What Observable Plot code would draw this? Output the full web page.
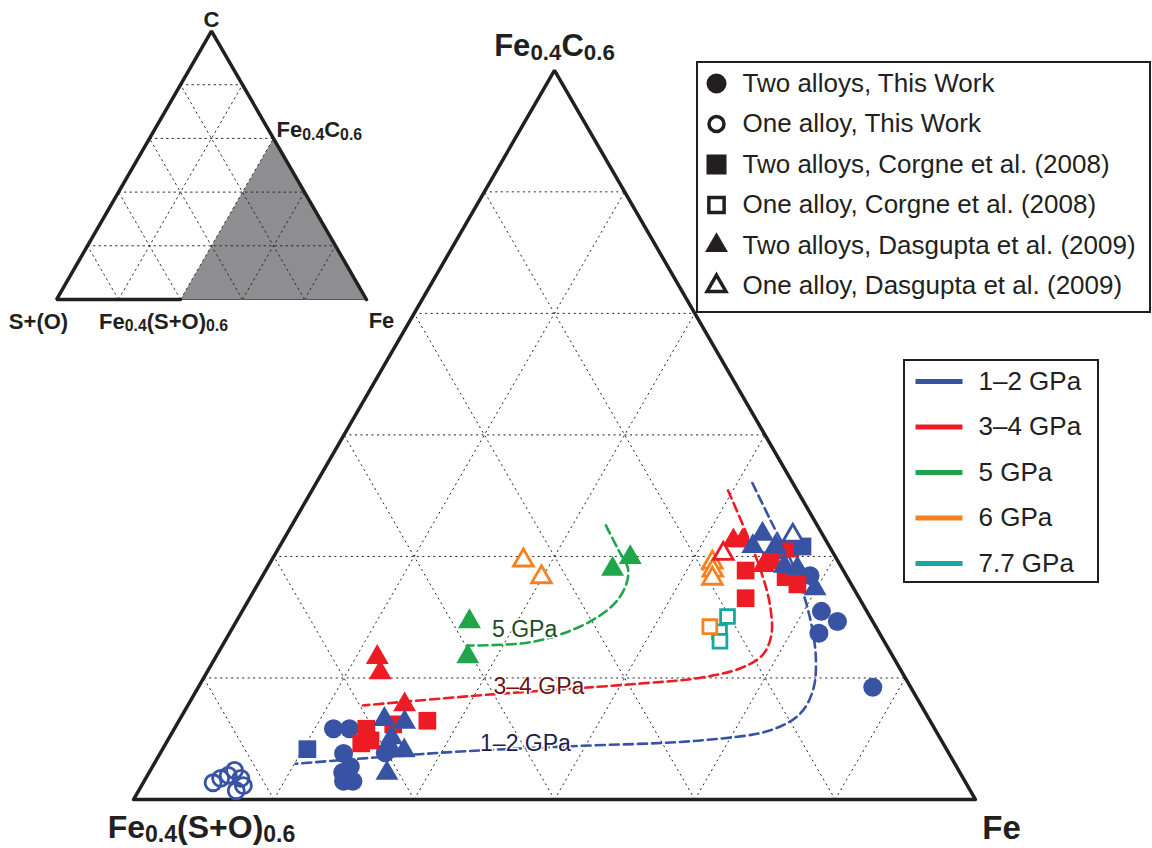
<!DOCTYPE html>
<html><head><meta charset="utf-8">
<script src="https://cdn.jsdelivr.net/npm/d3@7"></script>
<script src="https://cdn.jsdelivr.net/npm/@observablehq/plot@0.6"></script>
<style>body{margin:0;background:#fff;} svg{display:block;}</style>
</head><body><div id="chart"></div>
<script>
// ---------- DATA (main triangle compositions: [Fe-apex fraction, Fe0.4C0.6-apex fraction]) ----------
const pressures = ["1–2 GPa", "3–4 GPa", "5 GPa", "6 GPa", "7.7 GPa"];
const pressureColors = ["#3953a4", "#ed1c24", "#1fa64a", "#f58220", "#14a89e"];
const symbolLabels = ["Two alloys, This Work", "One alloy, This Work", "Two alloys, Corgne et al. (2008)",
  "One alloy, Corgne et al. (2008)", "Two alloys, Dasgupta et al. (2009)", "One alloy, Dasgupta et al. (2009)"];

const thisWorkTwo_1_2 = [[0.189,0.097],[0.208,0.097],[0.218,0.063],[0.235,0.045],[0.230,0.037],[0.248,0.025],[0.237,0.025],[0.267,0.064],
  [0.601,0.342],[0.632,0.311],[0.650,0.307],[0.688,0.258],[0.714,0.244],[0.700,0.228],[0.801,0.154]];
const thisWorkOne_1_2 = [[0.083,0.023],[0.089,0.029],[0.096,0.033],[0.100,0.040],[0.113,0.029],[0.121,0.019],[0.116,0.012]];
const corgneTwo_1_2 = [[0.172,0.069],[0.621,0.347]];
const corgneTwo_3_4 = [[0.228,0.097],[0.241,0.081],[0.232,0.077],[0.257,0.103],[0.295,0.108],
  [0.570,0.314],[0.589,0.276],[0.593,0.328],[0.622,0.305],[0.641,0.295],[0.608,0.344]];
const corgneOne_6 = [[0.566,0.237]];
const corgneOne_7_7 = [[0.580,0.251],[0.581,0.230],[0.588,0.217]];
const dasguptaTwo_1_2 = [[0.565,0.364],[0.562,0.347],[0.589,0.347],[0.613,0.320],[0.630,0.317],[0.665,0.289],
  [0.243,0.110],[0.269,0.106],[0.264,0.085],[0.274,0.067],[0.288,0.067],[0.283,0.036]];
const dasguptaTwo_3_4 = [[0.192,0.195],[0.206,0.174],[0.257,0.130],[0.535,0.355],[0.546,0.355],[0.588,0.321]];
const dasguptaTwo_5 = [[0.411,0.316],[0.424,0.332],[0.277,0.244],[0.299,0.196]];
const dasguptaOne_1_2 = [[0.602,0.362]];
const dasguptaOne_3_4 = [[0.532,0.337]];
const dasguptaOne_6 = [[0.525,0.325],[0.531,0.314],[0.536,0.303],[0.299,0.328],[0.332,0.305]];

const trend_1_2 = [[0.518,0.434],[0.565,0.383],[0.629,0.314],[0.681,0.246],[0.715,0.191],[0.732,0.150],[0.733,0.118],
  [0.709,0.095],[0.633,0.081],[0.483,0.073],[0.344,0.065],[0.168,0.049]];
const trend_3_4 = [[0.494,0.424],[0.542,0.369],[0.588,0.314],[0.623,0.266],[0.645,0.225],[0.648,0.198],[0.631,0.180],
  [0.590,0.167],[0.523,0.159],[0.432,0.151],[0.341,0.143],[0.208,0.129]];
const trend_5 = [[0.373,0.376],[0.405,0.342],[0.428,0.318],[0.437,0.298],[0.438,0.273],[0.426,0.250],[0.397,0.228],
  [0.360,0.215],[0.291,0.211]];
const trendLabelText = ["5 GPa", "3–4 GPa", "1–2 GPa"];
const trendLabelPos = [[0.348,0.233],[0.404,0.155],[0.427,0.077]];
const trendLabelColors = ["#1b4d2b", "#6e1414", "#1a2150"];

// inset: [Fe fraction, C fraction] in the Fe–C–(S+O) triangle
const insetShade = [[0.4,0],[0.4,0.6],[1,0]];
const mainDivisions = 6, insetDivisions = 5;

// ---------- LAYOUT ----------
const W = 1152, H = 848, UNIT = 842, OX = 133, OY = 799;
const px = p => (p - OX) / UNIT, py = p => (OY - p) / UNIT;
const S3 = Math.sqrt(3) / 2;
const mx = d => d[0] + d[1] / 2, my = d => d[1] * S3;
const IX0 = px(56), IY0 = py(299), IS = 310 / UNIT;
const ix = d => IX0 + IS * (d[0] + d[1] / 2), iy = d => IY0 + IS * d[1] * S3;
const FONT = "Liberation Sans, Arial, Helvetica, sans-serif";
const INK = "#231f20";

function gridSegs(n) {
  const s = [];
  for (let k = 1; k < n; k++) {
    const t = k / n;
    s.push([[0, t], [1 - t, t]]);
    s.push([[t, 0], [t, 1 - t]]);
    s.push([[1 - t, 0], [0, 1 - t]]);
  }
  return s;
}

const marks = [];
// inset
marks.push(Plot.line(insetShade, {x: ix, y: iy, fill: "#8e8e90", stroke: "none"}));
marks.push(Plot.link(gridSegs(insetDivisions), {x1: d => ix(d[0]), y1: d => iy(d[0]), x2: d => ix(d[1]), y2: d => iy(d[1]),
  stroke: "#222", strokeWidth: 0.9, strokeDasharray: "2.5,3"}));
marks.push(Plot.line([[0.4,0],[1,0]], {x: ix, y: iy, stroke: "#555", strokeWidth: 1.2}));
marks.push(Plot.line([[0.4,0],[0,0],[0,1],[1,0]], {x: ix, y: iy, stroke: INK, strokeWidth: 3.5, strokeLinejoin: "miter"}));
const insetText = (t, pt, opts) => Plot.text([t], {x: () => ix(pt), y: () => iy(pt), text: d => d, fontFamily: FONT,
  fontWeight: "bold", fontSize: 22, fill: INK, lineAnchor: "bottom", ...opts});
marks.push(insetText("C", [0,1], {dy: -4, fontSize: 22}));
marks.push(insetText("S+(O)", [0,0], {dx: -18, dy: 29}));
marks.push(insetText("Fe_{0.4}(S+O)_{0.6}", [0.4,0], {dx: -17, dy: 29}));
marks.push(insetText("Fe", [1,0], {dx: 15, dy: 28}));
marks.push(insetText("Fe_{0.4}C_{0.6}", [0.4,0.6], {dx: 3, dy: -1, textAnchor: "start"}));

// main grid + outline
marks.push(Plot.link(gridSegs(mainDivisions), {x1: d => mx(d[0]), y1: d => my(d[0]), x2: d => mx(d[1]), y2: d => my(d[1]),
  stroke: "#222", strokeWidth: 1, strokeDasharray: "2,3.5"}));
marks.push(Plot.line([[0,0],[1,0],[0,1],[0,0],[1,0]], {x: mx, y: my, stroke: INK, strokeWidth: 3.5, strokeLinejoin: "miter"}));
const mainText = (t, pt, opts) => Plot.text([t], {x: () => mx(pt), y: () => my(pt), text: d => d, fontFamily: FONT,
  fontWeight: "bold", fontSize: 32, fill: INK, lineAnchor: "bottom", ...opts});
marks.push(mainText("Fe_{0.4}C_{0.6}", [0,1], {dy: -14, fontSize: 31}));
marks.push(mainText("Fe_{0.4}(S+O)_{0.6}", [0,0], {dx: 68, dy: 38, fontSize: 32}));
marks.push(mainText("Fe", [1,0], {dx: 26, dy: 39, fontSize: 33}));

// trend curves
[[trend_1_2, 0], [trend_3_4, 1], [trend_5, 2]].forEach(([data, p]) => {
  marks.push(Plot.line(data, {x: mx, y: my, curve: "catmull-rom", stroke: pressureColors[p], strokeWidth: 2.6, strokeDasharray: "9,5"}));
});
trendLabelText.forEach((t, i) => {
  marks.push(Plot.text([t], {x: () => mx(trendLabelPos[i]), y: () => my(trendLabelPos[i]), text: d => d, fontFamily: FONT,
    fontSize: 23, fill: trendLabelColors[i], stroke: "white", strokeWidth: 3, paintOrder: "stroke", lineAnchor: "middle"}));
});

// data points
const filled = (data, p, symbol, r) => Plot.dot(data, {x: mx, y: my, symbol, r, fill: pressureColors[p], stroke: "none"});
const open = (data, p, symbol, r, fill) => Plot.dot(data, {x: mx, y: my, symbol, r, fill, stroke: pressureColors[p], strokeWidth: 2.8});
marks.push(open(dasguptaOne_6, 3, "triangle", 7.3, "white"));
marks.push(open(corgneOne_7_7, 4, "square", 7.8, "white"));
marks.push(open(corgneOne_6, 3, "square", 7.8, "white"));
marks.push(filled(dasguptaTwo_5, 2, "triangle", 8.5));
marks.push(filled(thisWorkTwo_1_2, 0, "circle", 9.5));
marks.push(filled(corgneTwo_3_4, 1, "square", 10));
marks.push(filled(dasguptaTwo_3_4, 1, "triangle", 8.5));
marks.push(open(dasguptaOne_3_4, 1, "triangle", 7.3, "white"));
marks.push(filled(corgneTwo_1_2, 0, "square", 10));
marks.push(filled(dasguptaTwo_1_2, 0, "triangle", 8.5));
marks.push(open(dasguptaOne_1_2, 0, "triangle", 7.3, "white"));
marks.push(open(thisWorkOne_1_2, 0, "circle", 8, "none"));

// symbol legend
marks.push(Plot.rect([0], {x1: () => px(697), x2: () => px(1150), y1: () => py(62), y2: () => py(312), fill: "white", stroke: INK, strokeWidth: 2}));
const legSym = [["circle", true, 10], ["circle", false, 7.5], ["square", true, 11.3], ["square", false, 8.6], ["triangle", true, 8.5], ["triangle", false, 7]];
legSym.forEach(([sym, isFilled, r], i) => {
  marks.push(Plot.dot([0], {x: () => px(716), y: () => py(83 + 40.5 * i), symbol: sym, r,
    fill: isFilled ? INK : "white", stroke: isFilled ? "none" : INK, strokeWidth: 3.5}));
});
marks.push(Plot.text(symbolLabels, {x: () => px(742), y: (d, i) => py(83 + 40.5 * i), text: d => d, textAnchor: "start",
  lineAnchor: "middle", fontFamily: FONT, fontSize: 26, fill: INK}));

// pressure legend
marks.push(Plot.rect([0], {x1: () => px(904), x2: () => px(1098), y1: () => py(360), y2: () => py(582), fill: "white", stroke: INK, strokeWidth: 2}));
pressures.forEach((p, i) => {
  marks.push(Plot.link([0], {x1: () => px(915), x2: () => px(962), y1: () => py(381 + 45.5 * i), y2: () => py(381 + 45.5 * i),
    stroke: pressureColors[i], strokeWidth: 5}));
});
marks.push(Plot.text(pressures, {x: () => px(978), y: (d, i) => py(381 + 45.5 * i), text: d => d, textAnchor: "start",
  lineAnchor: "middle", fontFamily: FONT, fontSize: 26, fill: INK}));

const chart = Plot.plot({
  width: W, height: H, margin: 0,
  x: {domain: [px(0), px(W)], axis: null},
  y: {domain: [py(H), py(0)], axis: null},
  style: {background: "white"},
  marks
});

// subscripts: "_{...}" -> tspans
function applySubs(svg) {
  svg.querySelectorAll("text").forEach(t => {
    const s = t.textContent;
    if (!s.includes("_{")) return;
    const holder = t.closest("[font-size]");
    const fs = parseFloat(holder ? holder.getAttribute("font-size") : 16);
    const subFs = fs * 0.72, shift = fs * 0.13;
    const parts = s.split(/(_\{[^}]*\})/).filter(x => x.length);
    t.textContent = "";
    let lowered = false;
    parts.forEach(part => {
      const ts = document.createElementNS("http://www.w3.org/2000/svg", "tspan");
      if (part.startsWith("_{")) {
        ts.textContent = part.slice(2, -1);
        ts.setAttribute("font-size", subFs);
        if (!lowered) { ts.setAttribute("dy", shift); lowered = true; }
      } else {
        ts.textContent = part;
        if (lowered) { ts.setAttribute("dy", -shift); lowered = false; }
      }
      t.appendChild(ts);
    });
  });
}
applySubs(chart);
document.getElementById("chart").appendChild(chart);
</script>
</body></html>
